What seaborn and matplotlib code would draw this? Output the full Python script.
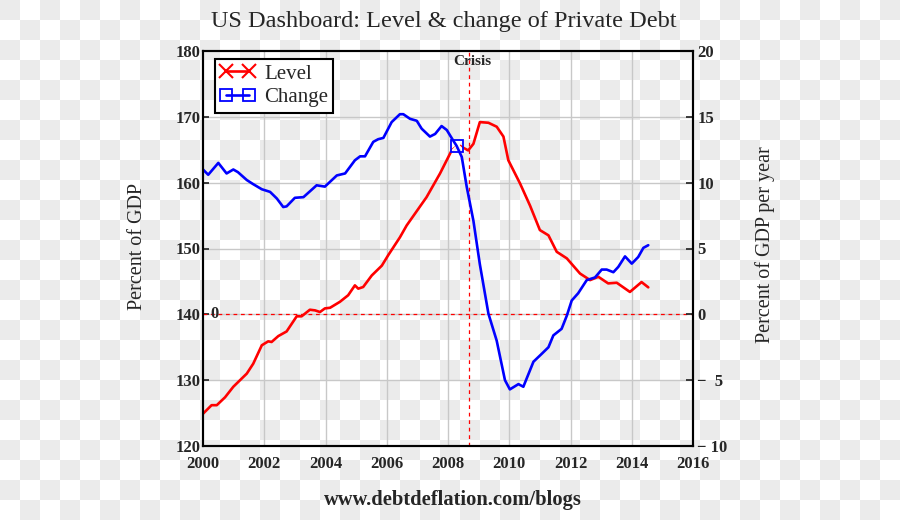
import numpy as np
import pandas as pd
import matplotlib
matplotlib.use("Agg")
import matplotlib.pyplot as plt
from matplotlib.lines import Line2D
import seaborn as sns

# Private debt level, percent of GDP (left axis)
level_years = [
    2000.00, 2000.28, 2000.45, 2000.72, 2000.99, 2001.43, 2001.64, 2001.92,
    2002.13, 2002.24, 2002.46, 2002.73, 2003.06, 2003.22, 2003.49, 2003.66,
    2003.82, 2003.98, 2004.15, 2004.47, 2004.74, 2004.96, 2005.07, 2005.23,
    2005.51, 2005.84, 2006.05, 2006.43, 2006.65, 2007.30, 2007.74, 2008.12,
    2008.34, 2008.66, 2008.83, 2009.04, 2009.32, 2009.59, 2009.81, 2009.97,
    2010.35, 2010.68, 2011.00, 2011.28, 2011.55, 2011.88, 2012.31, 2012.64,
    2012.91, 2013.23, 2013.51, 2013.94, 2014.32, 2014.54,
]
level_values = [
    124.9, 126.2, 126.2, 127.4, 129.0, 131.0, 132.5, 135.3,
    135.9, 135.8, 136.7, 137.4, 139.7, 139.7, 140.7, 140.6,
    140.35, 140.9, 141.0, 141.9, 142.9, 144.4, 143.9, 144.15,
    145.9, 147.4, 149.0, 151.7, 153.5, 157.8, 161.4, 164.9,
    165.7, 164.9, 165.9, 169.2, 169.1, 168.5, 167.0, 163.4,
    159.9, 156.5, 152.8, 152.0, 149.5, 148.5, 146.2, 145.2,
    145.7, 144.7, 144.8, 143.4, 144.9, 144.1,
]

# Annual change in private debt, percent of GDP per year (right axis)
change_years = [
    2000.00, 2000.17, 2000.50, 2000.77, 2000.99, 2001.14, 2001.43, 2001.63,
    2001.92, 2002.19, 2002.41, 2002.62, 2002.73, 2003.00, 2003.28, 2003.71,
    2003.98, 2004.37, 2004.64, 2004.96, 2005.13, 2005.29, 2005.56, 2005.72,
    2005.89, 2006.16, 2006.43, 2006.54, 2006.76, 2006.98, 2007.14, 2007.41,
    2007.58, 2007.79, 2007.96, 2008.17, 2008.28, 2008.45, 2008.61, 2008.83,
    2009.04, 2009.32, 2009.59, 2009.86, 2010.02, 2010.30, 2010.46, 2010.79,
    2011.06, 2011.28, 2011.44, 2011.71, 2011.88, 2012.04, 2012.25, 2012.53,
    2012.80, 2013.02, 2013.18, 2013.40, 2013.56, 2013.78, 2014.00, 2014.21,
    2014.38, 2014.54,
]
change_values = [
    11.0, 10.6, 11.5, 10.7, 11.0, 10.8, 10.2, 9.9,
    9.5, 9.3, 8.8, 8.15, 8.2, 8.85, 8.9, 9.8,
    9.7, 10.55, 10.7, 11.7, 12.0, 12.0, 13.1, 13.3,
    13.4, 14.6, 15.2, 15.2, 14.85, 14.7, 14.1, 13.5,
    13.7, 14.3, 14.0, 13.2, 12.8, 11.95, 9.7, 7.1,
    3.8, 0.05, -2.0, -5.0, -5.7, -5.3, -5.5, -3.6,
    -3.0, -2.5, -1.6, -1.1, -0.1, 1.05, 1.6, 2.6,
    2.8, 3.4, 3.4, 3.2, 3.6, 4.4, 3.85, 4.35,
    5.05, 5.25,
]

x_ticks = [2000, 2002, 2004, 2006, 2008, 2010, 2012, 2014, 2016]
left_ticks = [120, 130, 140, 150, 160, 170, 180]
right_ticks = [-10, -5, 0, 5, 10, 15, 20]
right_labels = ["\u2212 10", "\u2212  5", "0", "5", "10", "15", "20"]
crisis_year = 2008.70

level_df = pd.DataFrame({"year": level_years, "level": level_values})
change_df = pd.DataFrame({"year": change_years, "change": change_values})

sns.set_theme(style="white")
plt.rcParams["font.family"] = ["Liberation Serif", "DejaVu Serif"]

fig = plt.figure(figsize=(9, 5.2), dpi=100, facecolor="white")

# checkerboard backdrop of the source image
yy, xx = np.mgrid[0:520, 0:900]
cells = ((xx // 20 + yy // 20) % 2 == 0)
bg = np.where(cells[..., None], 0.925, 1.0) * np.ones(3)
fig.figimage(bg, 0, 0, zorder=-1)

ax = fig.add_axes([203 / 900, 1 - 446 / 520, 490 / 900, 395 / 520])
ax.set_facecolor("none")
ax2 = ax.twinx()
ax2.set_facecolor("none")

# grid and reference lines
for xv in x_ticks[1:-1]:
    ax.axvline(xv, color="#c8c8c8", lw=1, zorder=0)
for yv in left_ticks[1:-1]:
    ax.axhline(yv, color="#c8c8c8", lw=1, zorder=0)
ax.axhline(140, color="red", lw=0.9, ls=(0, (3, 3)), zorder=1)
ax.axvline(crisis_year, color="red", lw=0.9, ls=(0, (3, 3)), zorder=1)

red_mark = level_years.index(2008.34)
blue_mark = change_years.index(2008.28)

sns.lineplot(data=level_df, x="year", y="level", ax=ax, color="red", lw=1.9,
             marker="x", markevery=[red_mark], markersize=10, mew=1.5)
sns.lineplot(data=change_df, x="year", y="change", ax=ax2, color="blue", lw=1.9,
             marker="s", markevery=[blue_mark], markersize=9,
             markerfacecolor="none", markeredgecolor="blue", mew=1.3)

ax.set_xlim(2000, 2016)
ax.set_ylim(120, 180)
ax2.set_ylim(-10, 20)
ax.set_xticks(x_ticks)
ax.set_xticklabels([str(t) for t in x_ticks], fontsize=12, fontweight="bold")
ax.set_yticks(left_ticks)
ax.set_yticklabels([str(t) for t in left_ticks], fontsize=12, fontweight="bold")
ax2.set_yticks(right_ticks)
ax2.set_yticklabels(right_labels, fontsize=12, fontweight="bold")
ax.set_xlabel("")
ax.set_ylabel("")
ax2.set_ylabel("")

ax.tick_params(axis="x", direction="in", length=0, pad=7)
ax.tick_params(axis="y", direction="in", length=4, pad=2)
ax2.tick_params(axis="y", direction="in", length=5, pad=3)

for a in (ax, ax2):
    for s in a.spines.values():
        s.set_color("black")
        s.set_linewidth(1.5)

ax.text(2000.39, 140, "0", fontsize=12, fontweight="bold", ha="center", va="center")
ax.text(crisis_year + 0.08, 178.4, "Crisis", fontsize=11, fontweight="bold",
        ha="center", va="center")

handles = [
    Line2D([], [], color="red", lw=1.9, marker="x", markersize=10, mew=1.5),
    Line2D([], [], color="blue", lw=1.9, marker="s", markersize=8,
           markerfacecolor="none", mew=1.3),
]
leg = ax2.legend(handles, ["Level", "Change"], loc="upper left",
                 bbox_to_anchor=(0.0245, 0.98), borderaxespad=0, numpoints=2,
                 fontsize=15, frameon=True, fancybox=False, framealpha=1,
                 handlelength=1.7, handletextpad=0.4, borderpad=0.25,
                 labelspacing=0.2)
leg.get_frame().set_edgecolor("black")
leg.get_frame().set_linewidth(1.5)

fig.text(444 / 900, 1 - 22 / 520, "US Dashboard: Level & change of Private Debt",
         fontsize=17.5, ha="center", va="center")
fig.text(137 / 900, 1 - 246 / 520, "Percent of GDP", fontsize=14.5,
         rotation=90, ha="center", va="center")
fig.text(765 / 900, 1 - 245 / 520, "Percent of GDP per year", fontsize=14.5,
         rotation=90, ha="center", va="center")
fig.text(453 / 900, 1 - 500 / 520, "www.debtdeflation.com/blogs", fontsize=14.8,
         fontweight="bold", ha="center", va="center")

fig.savefig("out.png", dpi=100)
